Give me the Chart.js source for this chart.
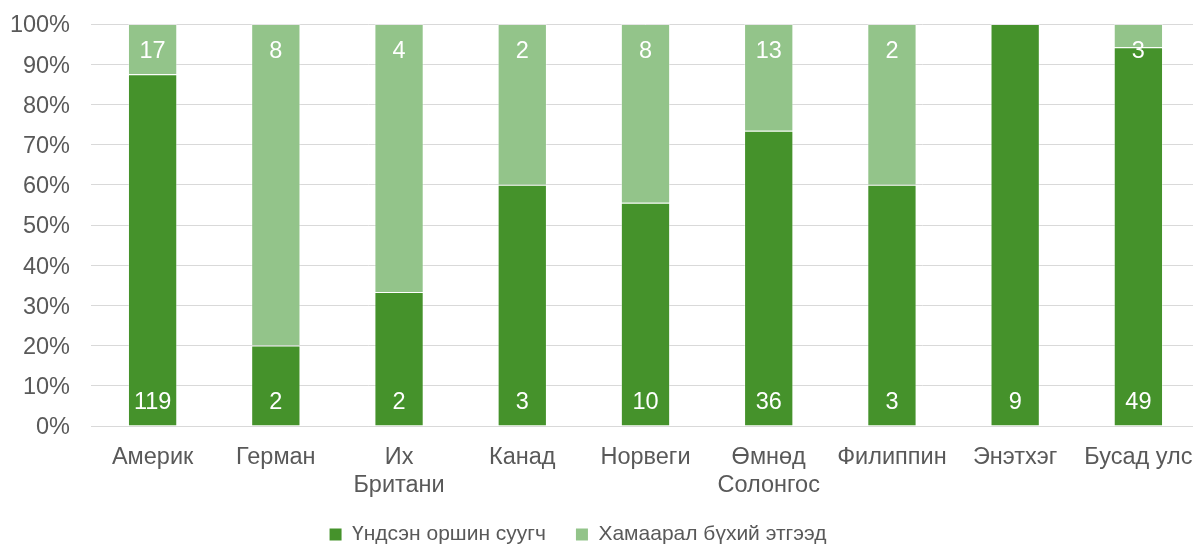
<!DOCTYPE html>
<html>
<head>
<meta charset="utf-8">
<script src="https://cdn.jsdelivr.net/npm/chart.js@4"></script>
<style>
  html, body { margin: 0; padding: 0; background: #ffffff; overflow: hidden; }
  #wrap { width: 1193px; height: 544px; overflow: hidden; position: relative; }
  canvas { display: block; }
</style>
</head>
<body>
<div id="wrap"><canvas id="c" width="1200" height="559"></canvas></div>
<script>
const categories = ['Америк', 'Герман', ['Их', 'Британи'], 'Канад', 'Норвеги', ['Өмнөд', 'Солонгос'], 'Филиппин', 'Энэтхэг', 'Бусад улс'];
const residents = [119, 2, 2, 3, 10, 36, 3, 9, 49];
const related = [17, 8, 4, 2, 8, 13, 2, 0, 3];
const seriesNames = ['Үндсэн оршин суугч', 'Хамаарал бүхий этгээд'];
const yTicks = [0, 10, 20, 30, 40, 50, 60, 70, 80, 90, 100];

const totals = residents.map((v, i) => v + related[i]);
const pct = arr => arr.map((v, i) => totals[i] ? v / totals[i] * 100 : 0);

const FONT = '"Liberation Sans", Arial, sans-serif';
const DARK = '#45922B';
const LIGHT = '#93C48A';
const EDGE = 'rgba(255,255,255,0.35)';
const FS = 23.5;

const labelPlugin = {
  id: 'countLabels',
  afterDatasetsDraw(chart) {
    const ctx = chart.ctx;
    ctx.save();
    ctx.font = FS + 'px ' + FONT;
    ctx.fillStyle = '#ffffff';
    ctx.textAlign = 'center';
    ctx.textBaseline = 'middle';
    const raw = [residents, related];
    chart.data.datasets.forEach((ds, di) => {
      const meta = chart.getDatasetMeta(di);
      meta.data.forEach((el, i) => {
        const v = raw[di][i];
        if (!v) return;
        const y = di === 0 ? el.base - 23 : el.y + 28;
        ctx.fillText(String(v), el.x, y);
      });
    });
    ctx.restore();
  }
};

const legendShift = {
  id: 'legendShift',
  afterLayout(chart) {
    const lg = chart.legend;
    if (!lg) return;
    const dx = -22, dy = -4;
    lg.left += dx; lg.right += dx;
    lg.top += dy; lg.bottom += dy;
  }
};

new Chart(document.getElementById('c'), {
  type: 'bar',
  data: {
    labels: categories,
    datasets: [
      { label: seriesNames[0], data: pct(residents), backgroundColor: DARK, borderColor: EDGE, borderWidth: 1 },
      { label: seriesNames[1], data: pct(related), backgroundColor: LIGHT, borderColor: EDGE, borderWidth: 1 }
    ]
  },
  options: {
    responsive: false,
    animation: false,
    events: [],
    layout: { padding: { top: 24, left: 0, right: 0, bottom: 0 } },
    datasets: { bar: { categoryPercentage: 1.0, barPercentage: 0.4 } },
    scales: {
      x: {
        stacked: true,
        grid: { display: false, drawTicks: false },
        border: { display: true, color: '#D9D9D9', width: 1 },
        ticks: { color: '#595959', font: { family: FONT, size: FS, lineHeight: 1.2 }, padding: 17, maxRotation: 0, autoSkip: false },
        afterFit(scale) { scale.height = 72; scale.paddingLeft = 0; scale.paddingRight = 0; }
      },
      y: {
        stacked: true,
        min: 0, max: 100,
        afterBuildTicks(scale) { scale.ticks = yTicks.map(v => ({ value: v })); },
        grid: { color: '#D9D9D9', lineWidth: 1, drawTicks: false },
        border: { display: false },
        ticks: { color: '#595959', font: { family: FONT, size: FS }, padding: 21, labelOffset: 2, callback: v => v + '%' },
        afterFit(scale) { scale.width = 91; scale.paddingTop = 0; scale.paddingBottom = 0; }
      }
    },
    plugins: {
      legend: {
        position: 'bottom',
        labels: {
          color: '#595959', font: { family: FONT, size: 21 }, boxWidth: 12, boxHeight: 12, padding: 30,
          generateLabels(chart) {
            return chart.data.datasets.map((ds, i) => ({
              text: ds.label, fillStyle: ds.backgroundColor, strokeStyle: ds.backgroundColor,
              lineWidth: 0, hidden: false, datasetIndex: i, fontColor: '#595959'
            }));
          }
        }
      },
      tooltip: { enabled: false }
    }
  },
  plugins: [labelPlugin, legendShift]
});
</script>
</body>
</html>
